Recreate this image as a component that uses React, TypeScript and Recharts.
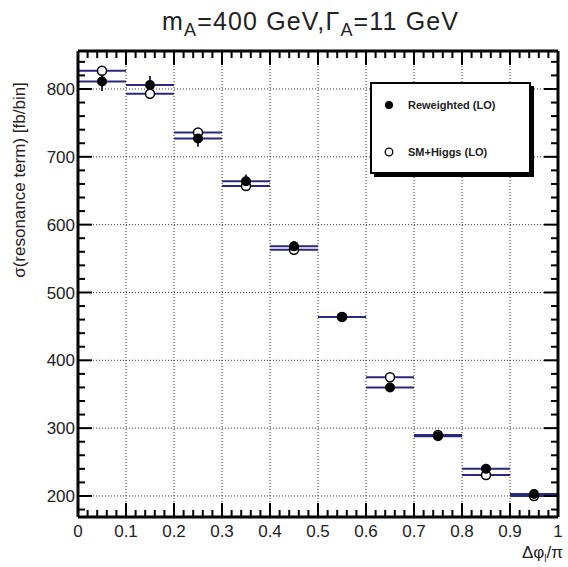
import React from 'react';
import { ComposedChart, Scatter, XAxis, YAxis, CartesianGrid, ErrorBar, Customized } from 'recharts';

// bin centres in Δφ/π, each bin is 0.1 wide
const binCenters = [0.05, 0.15, 0.25, 0.35, 0.45, 0.55, 0.65, 0.75, 0.85, 0.95];
const binHalfWidth = 0.05;
const reweighted = [811, 806, 727, 664, 568, 464, 360, 288, 240, 203];
const reweightedErr = [14, 13, 12, 10, 8, 6, 6, 5, 4, 4];
const smHiggs = [827, 793, 736, 657, 563, 464, 375, 290, 231, 200];

const xMajorTicks = [0, 0.1, 0.2, 0.3, 0.4, 0.5, 0.6, 0.7, 0.8, 0.9, 1];
const xTickLabels = ['0', '0.1', '0.2', '0.3', '0.4', '0.5', '0.6', '0.7', '0.8', '0.9', '1'];
const yMajorTicks = [200, 300, 400, 500, 600, 700, 800];
const yDomain = [169, 856];

const FONT = '"Liberation Sans", Arial, Helvetica, sans-serif';
const BIN_COLOR = '#28287c';

// minor ticks every 0.02 in x and 20 in y
const xTicks: number[] = [];
for (let i = 0; i <= 50; i++) xTicks.push(Math.round(i * 2) / 100);
const yTicks: number[] = [];
for (let v = 180; v <= yDomain[1]; v += 20) yTicks.push(v);

const isMajorX = (v: number) => xMajorTicks.some(t => Math.abs(t - v) < 1e-6);
const isMajorY = (v: number) => yMajorTicks.includes(v);

const reweightedData = binCenters.map((x, i) => ({ x, y: reweighted[i], xerr: binHalfWidth, yerr: reweightedErr[i] }));
const smHiggsData = binCenters.map((x, i) => ({ x, y: smHiggs[i], xerr: binHalfWidth }));

const BottomTick = (props: any) => {
  const { x, y, payload } = props;
  const major = isMajorX(payload.value);
  const idx = xMajorTicks.findIndex(t => Math.abs(t - payload.value) < 1e-6);
  return <g>
      <line x1={x} y1={y} x2={x} y2={y - (major ? 14 : 7)} stroke="#000" strokeWidth={2} />
      {major && <text x={x} y={y + 20} textAnchor="middle" fontSize={17} fontFamily={FONT} fill="#222">
          {xTickLabels[idx]}
        </text>}
    </g>;
};

const TopTick = (props: any) => {
  const { x, y, payload } = props;
  const major = isMajorX(payload.value);
  return <line x1={x} y1={y} x2={x} y2={y + (major ? 14 : 7)} stroke="#000" strokeWidth={2} />;
};

const LeftTick = (props: any) => {
  const { x, y, payload } = props;
  const major = isMajorY(payload.value);
  return <g>
      <line x1={x} y1={y} x2={x + (major ? 14 : 7)} y2={y} stroke="#000" strokeWidth={2} />
      {major && <text x={x - 3} y={y} dy="0.36em" textAnchor="end" fontSize={17} fontFamily={FONT} fill="#222">
          {payload.value}
        </text>}
    </g>;
};

const RightTick = (props: any) => {
  const { x, y, payload } = props;
  const major = isMajorY(payload.value);
  return <line x1={x} y1={y} x2={x - (major ? 14 : 7)} y2={y} stroke="#000" strokeWidth={2} />;
};

const FilledDot = (props: any) => <circle cx={props.cx} cy={props.cy} r={5} fill="#000" />;
const OpenDot = (props: any) => <circle cx={props.cx} cy={props.cy} r={4.5} fill="#fff" stroke="#000" strokeWidth={1.5} />;

// legend box with drop shadow, plus title and axis titles
const Decorations = () => <g fontFamily={FONT} fill="#222">
    <rect x={374} y={86} width={160} height={91} fill="#000" />
    <rect x={371} y={83} width={159} height={90} fill="#fff" stroke="#000" strokeWidth={2} />
    <circle cx={389} cy={105} r={4} fill="#000" />
    <text x={408} y={109} fontSize={11} fontWeight="bold">Reweighted (LO)</text>
    <circle cx={389} cy={152} r={3.8} fill="#fff" stroke="#000" strokeWidth={1.3} />
    <text x={408} y={156} fontSize={11} fontWeight="bold">SM+Higgs (LO)</text>

    <text x={162} y={30} fontSize={25} textLength={296} lengthAdjust="spacing">
      m<tspan fontSize={18} dy={6}>A</tspan><tspan dy={-6}>=400 GeV,Γ</tspan><tspan fontSize={18} dy={6}>A</tspan><tspan dy={-6}>=11 GeV</tspan>
    </text>
    <text transform="translate(25,180) rotate(-90)" textAnchor="middle" fontSize={17}>
      σ(resonance term) [fb/bin]
    </text>
    <text x={563} y={558} textAnchor="end" fontSize={17}>
      Δφ<tspan fontSize={10} dy={4}>l</tspan><tspan dy={-4}>/π</tspan>
    </text>
  </g>;

const frameLine = { stroke: '#000', strokeWidth: 3 };

export default function App() {
  return <div style={{ position: 'absolute', left: 0, top: 0, background: '#fff' }}>
      <ComposedChart width={568} height={567} margin={{ top: 50, right: 9, bottom: 49, left: 77 }}>
        <CartesianGrid strokeDasharray="1 2" stroke="#333" strokeWidth={1} xAxisId="major" yAxisId="major" />
        {/* grid-only axes carrying the major divisions */}
        <XAxis xAxisId="major" dataKey="x" type="number" domain={[0, 1]} ticks={xMajorTicks} hide />
        <YAxis yAxisId="major" dataKey="y" type="number" domain={yDomain} ticks={yMajorTicks} hide />
        <XAxis dataKey="x" type="number" domain={[0, 1]} ticks={xTicks} interval={0} height={1}
          tickSize={0} tickMargin={0} tick={<BottomTick />} axisLine={frameLine} allowDataOverflow />
        <XAxis xAxisId="top" orientation="top" dataKey="x" type="number" domain={[0, 1]} ticks={xTicks} interval={0} height={1}
          tickSize={0} tickMargin={0} tick={<TopTick />} axisLine={frameLine} allowDataOverflow />
        <YAxis dataKey="y" type="number" domain={yDomain} ticks={yTicks} interval={0} width={1}
          tickSize={0} tickMargin={0} tick={<LeftTick />} axisLine={frameLine} allowDataOverflow />
        <YAxis yAxisId="right" orientation="right" dataKey="y" type="number" domain={yDomain} ticks={yTicks} interval={0} width={1}
          tickSize={0} tickMargin={0} tick={<RightTick />} axisLine={frameLine} allowDataOverflow />
        <Scatter name="SM+Higgs (LO)" data={smHiggsData} dataKey="y" shape={<OpenDot />} isAnimationActive={false}>
          <ErrorBar dataKey="xerr" direction="x" width={0} stroke={BIN_COLOR} strokeWidth={2} />
        </Scatter>
        <Scatter name="Reweighted (LO)" data={reweightedData} dataKey="y" shape={<FilledDot />} isAnimationActive={false}>
          <ErrorBar dataKey="xerr" direction="x" width={0} stroke={BIN_COLOR} strokeWidth={2} />
          <ErrorBar dataKey="yerr" direction="y" width={0} stroke={BIN_COLOR} strokeWidth={2} />
        </Scatter>
        <Scatter data={smHiggsData} dataKey="y" xAxisId="top" yAxisId="right" shape={() => <g />} isAnimationActive={false} />
        <Scatter data={smHiggsData} dataKey="y" xAxisId="major" yAxisId="major" shape={() => <g />} isAnimationActive={false} />
        <Customized component={<Decorations />} />
      </ComposedChart>
    </div>;
}
